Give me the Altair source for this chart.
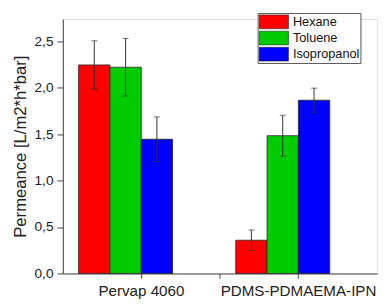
import altair as alt
import pandas as pd

groups = ["Pervap 4060", "Pervap 4060", "Pervap 4060",
          "PDMS-PDMAEMA-IPN", "PDMS-PDMAEMA-IPN", "PDMS-PDMAEMA-IPN"]
solvents = ["Hexane", "Toluene", "Isopropanol", "Hexane", "Toluene", "Isopropanol"]
values = [2.245, 2.22, 1.445, 0.358, 1.483, 1.865]
errors = [0.26, 0.31, 0.24, 0.11, 0.22, 0.13]

x_domain = ["Pervap 4060", " ", "PDMS-PDMAEMA-IPN"]
solvent_order = ["Hexane", "Toluene", "Isopropanol"]
solvent_colors = ["#ff0000", "#00cc00", "#0000ff"]
y_ticks = [0, 0.25, 0.5, 0.75, 1.0, 1.25, 1.5, 1.75, 2.0, 2.25, 2.5]

df = pd.DataFrame({"group": groups, "solvent": solvents, "value": values, "err": errors})

FONT = "Liberation Sans"
MAJOR = "abs(datum.value*2 - round(datum.value*2)) < 0.001"

x_enc = alt.X("group:N", scale=alt.Scale(domain=x_domain, paddingInner=0, paddingOuter=0.5),
              axis=alt.Axis(title=None, labelFontSize=15.5, labelFont=FONT, labelColor="#222",
                            labelPadding=5, tickSize=5, tickColor="#444", domainColor="#444",
                            labelAngle=0, ticks=True, grid=False))
xo_enc = alt.XOffset("solvent:N", scale=alt.Scale(domain=solvent_order, range=[-24, 72],
                                                   paddingInner=0, paddingOuter=0))
y_enc = alt.Y("value:Q", scale=alt.Scale(domain=[0, 2.74], nice=False, zero=True),
              axis=alt.Axis(title="Permeance [L/m2*h*bar]", titleFont=FONT, titleFontSize=17,
                            titleFontWeight="normal", titleColor="#222", titlePadding=5,
                            values=y_ticks, labelFont=FONT, labelFontSize=14, labelColor="#222",
                            labelExpr=MAJOR + " ? replace(format(datum.value, '.1f'), '.', ',') : ''",
                            tickSize={"condition": {"test": MAJOR, "value": 6}, "value": 3},
                            tickColor="#444", domainColor="#444", labelPadding=4, grid=False))

base = alt.Chart(df)

bars = base.mark_bar(stroke="#222", strokeWidth=0.8).encode(
    x=x_enc,
    xOffset=xo_enc,
    y=y_enc,
    color=alt.Color("solvent:N", scale=alt.Scale(domain=solvent_order, range=solvent_colors),
                    legend=alt.Legend(title=None, orient="none", legendX=199, legendY=-6,
                                      symbolType="M-1,-0.47H1V0.47H-1Z", symbolSize=900,
                                      symbolStrokeColor="#222", symbolStrokeWidth=0.6,
                                      labelFont=FONT, labelFontSize=13, labelColor="#111",
                                      labelOffset=4, rowPadding=0.5, clipHeight=16,
                                      strokeColor="#555", padding=1, fillColor="white")),
)

rules = base.transform_calculate(lo="datum.value - datum.err", hi="datum.value + datum.err").mark_rule(
    color="#333", strokeWidth=1).encode(
    x=alt.X("group:N"), xOffset=alt.XOffset("solvent:N"),
    y=alt.Y("lo:Q"), y2="hi:Q")

caps_hi = base.transform_calculate(hi="datum.value + datum.err").mark_tick(
    color="#333", thickness=1, size=6).encode(
    x=alt.X("group:N"), xOffset=alt.XOffset("solvent:N"), y=alt.Y("hi:Q"))
caps_lo = base.transform_calculate(lo="datum.value - datum.err").mark_tick(
    color="#333", thickness=1, size=6).encode(
    x=alt.X("group:N"), xOffset=alt.XOffset("solvent:N"), y=alt.Y("lo:Q"))

chart = alt.layer(bars, rules, caps_hi, caps_lo).properties(
    width=321, height=260,
    autosize=alt.AutoSizeParams(type="none"),
    padding={"left": 56, "top": 8, "right": 4, "bottom": 28},
).configure_view(stroke=None).configure(background="white")

chart.save("out.html", embed_options={"renderer": "svg", "actions": False})
